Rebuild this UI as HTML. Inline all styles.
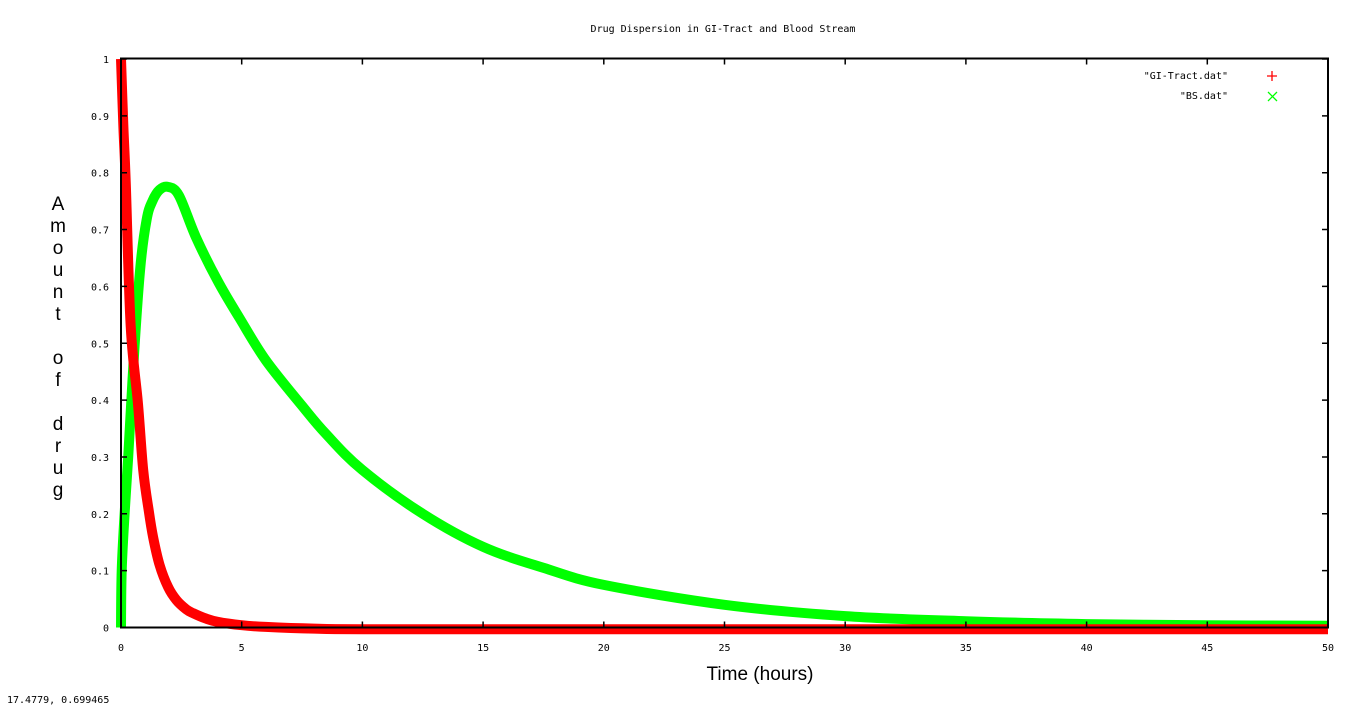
<!DOCTYPE html>
<html><head><meta charset="utf-8"><style>
html,body{margin:0;padding:0;background:#fff;width:1366px;height:705px;overflow:hidden}
svg{display:block}
.t{font-family:"DejaVu Sans Mono","Liberation Mono",monospace;font-size:10px;fill:#000}
.l{font-family:"Liberation Sans",sans-serif;font-size:19px;fill:#000}
</style></head><body>
<svg id="chart" width="1366" height="705">
<text class="t" x="723" y="32" text-anchor="middle">Drug Dispersion in GI-Tract and Blood Stream</text>
<g id="ylabel"></g>
<text class="l" x="760" y="680" text-anchor="middle">Time (hours)</text>
<text class="t" x="7" y="703">17.4779,  0.699465</text>
<g id="series"></g>
<rect x="121" y="58.5" width="1207" height="569" fill="none" stroke="#000" stroke-width="2"/>
<g id="ticks"></g>
<g>
<text class="t" x="1228" y="79" text-anchor="end">"GI-Tract.dat"</text>
<path d="M1267,76h10M1272,71v10" stroke="#f00" stroke-width="1.3"/>
<text class="t" x="1228" y="99" text-anchor="end">"BS.dat"</text>
<path d="M1268,92l9,9M1277,92l-9,9" stroke="#0f0" stroke-width="1.3"/>
</g>
</svg>
<script>
const xTicks=[0,5,10,15,20,25,30,35,40,45,50];
const yTicks=[0,0.1,0.2,0.3,0.4,0.5,0.6,0.7,0.8,0.9,1];
const yTickLabels=["0","0.1","0.2","0.3","0.4","0.5","0.6","0.7","0.8","0.9","1"];
const giTimes=[0,0.1,0.2,0.4,0.7,0.92,1.15,1.33,1.6,1.95,2.3,2.7,3,3.5,4,5,6,8,10,20,30,40,50];
const giValues=[1,0.88,0.78,0.53,0.395,0.277,0.205,0.159,0.11,0.071,0.048,0.032,0.025,0.016,0.01,0.004,0.001,-0.002,-0.003,-0.003,-0.003,-0.003,-0.003];
const bsTimes=[0,0.03,0.15,0.3,0.5,0.79,1.06,1.3,1.6,1.95,2.4,3.1,4,4.9,6,7.5,8.5,10,12.5,15,17.5,20,25,30,35,40,45,50];
const bsValues=[0,0.1,0.2,0.3,0.453,0.629,0.717,0.75,0.77,0.775,0.76,0.687,0.61,0.545,0.47,0.39,0.34,0.277,0.2,0.142,0.105,0.075,0.04,0.02,0.011,0.006,0.004,0.003];
const NS="http://www.w3.org/2000/svg";
const X=t=>121+t*24.14, Y=v=>627.5-v*568.5;
function mk(tag,attrs,parent){const e=document.createElementNS(NS,tag);for(const k in attrs)e.setAttribute(k,attrs[k]);parent.appendChild(e);return e;}
const ticks=document.getElementById('ticks');
xTicks.forEach(t=>{
 const g=mk('g',{},ticks);
 
 
 mk('path',{d:`M${X(t)},627.5v-6M${X(t)},58.5v6`,stroke:'#000','stroke-width':1.5},g);
 const tx=mk('text',{x:X(t),y:651,'text-anchor':'middle',class:'t'},g);tx.textContent=String(t);
});
yTicks.forEach((v,i)=>{
 const g=mk('g',{},ticks);
 
 
 mk('path',{d:`M121,${Y(v)}h6M1328,${Y(v)}h-6`,stroke:'#000','stroke-width':1.5},g);
 const tx=mk('text',{x:109,y:Y(v)+4,'text-anchor':'end',class:'t'},g);tx.textContent=yTickLabels[i];
});
const series=document.getElementById('series');
function line(ts,vs,color,name){
 const P=ts.map((t,i)=>[X(t),Y(vs[i])]);
 let d='M'+P[0][0].toFixed(1)+','+P[0][1].toFixed(1);
 for(let i=0;i<P.length-1;i++){
  const p0=P[Math.max(0,i-1)],p1=P[i],p2=P[i+1],p3=P[Math.min(P.length-1,i+2)];
  const c1=[p1[0]+(p2[0]-p0[0])/6,p1[1]+(p2[1]-p0[1])/6];
  const c2=[p2[0]-(p3[0]-p1[0])/6,p2[1]-(p3[1]-p1[1])/6];
  d+=`C${c1[0].toFixed(1)},${c1[1].toFixed(1)} ${c2[0].toFixed(1)},${c2[1].toFixed(1)} ${p2[0].toFixed(1)},${p2[1].toFixed(1)}`;
 }
 const p=mk('path',{d:d,fill:'none',stroke:color,'stroke-width':10,'stroke-linejoin':'round'},series);
 
 
}
line(bsTimes,bsValues,'#0f0','bs-series-line');
line(giTimes,giValues,'#f00','gi-tract-series-line');
const yl=document.getElementById('ylabel');
const letters=["A","m","o","u","n","t","","o","f","","d","r","u","g"];
letters.forEach((c,i)=>{if(!c)return;const tx=mk('text',{x:58,y:210+i*22,'text-anchor':'middle',class:'l'},yl);tx.textContent=c;});
</script>
</body></html>
